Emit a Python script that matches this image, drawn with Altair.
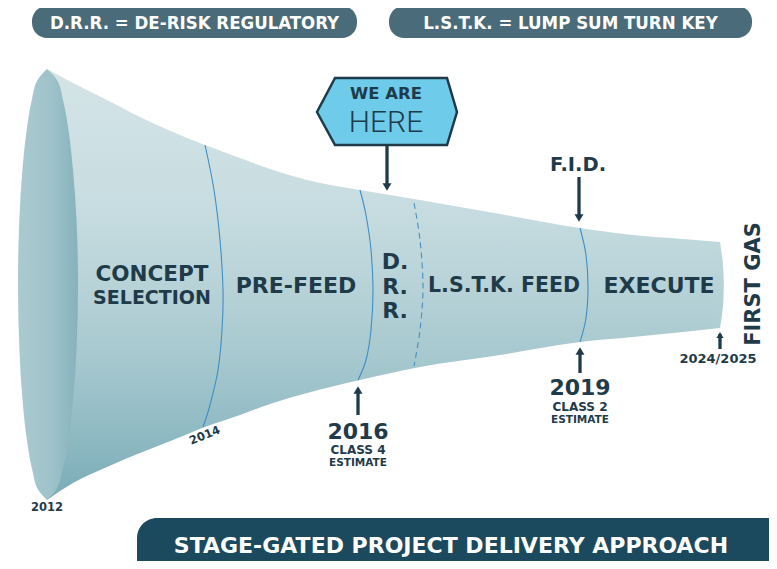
import altair as alt
import pandas as pd

# ---------------- data (reference pixel space) ----------------
# funnel body profile
body_x      = [47, 73, 107, 140, 173, 205, 240, 273, 307, 360, 420, 500, 580, 633, 683, 720]
body_top    = [69, 83, 100, 117, 132, 145, 158, 170, 180, 190, 200, 214, 228, 235, 239, 242]
body_bottom = [500, 483, 467, 453, 440, 427, 415, 403, 393, 380, 367, 355, 342, 337, 332, 328]

# mouth (opening ellipse) profile
mouth_y     = [69, 80, 100, 130, 170, 220, 284, 350, 400, 440, 470, 490, 500]
mouth_left  = [47, 37.5, 31.8, 26.7, 22.4, 19.3, 18, 19.4, 22.5, 26.9, 32.3, 38.3, 47]
mouth_right = [47, 57, 63, 68.5, 73, 76.5, 78, 76.5, 73, 68.5, 62.5, 56, 47]

# right end cap
cap_y     = [242, 262, 285, 308, 328]
cap_x_in  = [712, 712, 712, 712, 712]
cap_x_out = [720, 722.8, 723.8, 722.8, 720]

# stage gate dividers
div_line = ["g1"] * 8 + ["g2"] * 7 + ["g4"] * 5
div_x    = [205, 214, 220, 223, 222, 218, 210, 203,
            360, 366, 371, 373, 371, 366, 358,
            580, 586, 588, 586, 580]
div_y    = [145, 190, 240, 290, 330, 370, 405, 427,
            190, 215, 250, 290, 330, 360, 380,
            228, 255, 287, 318, 342]
dash_x   = [414, 420, 423, 420, 414]
dash_y   = [203, 240, 287, 330, 366]

# "WE ARE HERE" hexagon
hex_y     = [78, 112, 145]
hex_left  = [335, 317, 335]
hex_right = [447, 457, 447]

# stage labels
stage_labels = ["PRE-FEED", "D.", "R.", "R.", "EXECUTE"]
stage_x      = [296, 395, 395, 395, 659]
stage_y      = [286, 262, 287, 311, 286]

# header pills / banner
pill_labels = ["D.R.R. = DE-RISK REGULATORY", "L.S.T.K. = LUMP SUM TURN KEY"]
pill_x1 = [32, 389]
pill_x2 = [357, 752]
pill_y1 = [6, 6]
pill_y2 = [38, 38]
banner_label = "STAGE-GATED PROJECT DELIVERY APPROACH"

# milestone years
year_labels = ["2016", "2019"]
year_x = [358, 580]
year_y = [432, 388]
class_labels = ["CLASS 4", "CLASS 2"]
class_y = [450, 407]
est_y = [463, 420]

# arrows
shaft_x  = [387, 579, 358, 580, 720]
shaft_y1 = [145, 177, 390, 350, 334]
shaft_y2 = [186, 218, 415, 373, 349]
head_down_x = [387, 579]
head_down_y = [187, 218]
head_up_x = [358, 580]
head_up_y = [390, 351]
small_head_x = [720]
small_head_y = [335]

DARK = "#1f3b4a"
BOLD = "DejaVu Sans"

W, H = 761, 553
xs = alt.Scale(domain=[8, 8 + W], nice=False, zero=False)
ys = alt.Scale(domain=[8, 8 + H], nice=False, zero=False, reverse=True)


def X(f):
    return alt.X(f, type="quantitative", scale=xs, axis=None)


def Y(f):
    return alt.Y(f, type="quantitative", scale=ys, axis=None)


def grad(stops, horizontal=False):
    return alt.Gradient(
        gradient="linear",
        stops=[alt.GradientStop(offset=o, color=c) for o, c in stops],
        x1=0, y1=0, x2=1 if horizontal else 0, y2=0 if horizontal else 1,
    )


def text_layer(labels, x, y, size, font=BOLD, weight="bold", color=DARK, angle=None):
    df = pd.DataFrame({"label": labels, "x": x, "y": y})
    kw = dict(font=font, fontSize=size, fontWeight=weight, color=color,
              align="center", baseline="middle")
    if angle is not None:
        kw["angle"] = angle
    return alt.Chart(df).mark_text(**kw).encode(x=X("x"), y=Y("y"), text="label:N")


body_df = pd.DataFrame({"x": body_x, "top": body_top, "bottom": body_bottom})
body = alt.Chart(body_df).mark_area(
    orient="vertical", interpolate="monotone",
    color=grad([(0, "#d4e4e7"), (0.3, "#c8dde1"), (0.5, "#b8d3d8"),
                (0.7, "#a3c6cd"), (0.9, "#88b5bf"), (1, "#7aabb7")]),
).encode(x=X("x"), y=Y("top"), y2=alt.Y2("bottom"))

cap_df = pd.DataFrame({"y": cap_y, "a": cap_x_in, "b": cap_x_out})
cap = alt.Chart(cap_df).mark_area(
    orient="horizontal", interpolate="monotone",
    color=grad([(0, "#c0d8dc"), (1, "#aecdd3")]),
).encode(y=Y("y"), x=X("a"), x2=alt.X2("b"))

mouth_df = pd.DataFrame({"y": mouth_y, "l": mouth_left, "r": mouth_right})
mouth = alt.Chart(mouth_df).mark_area(
    orient="horizontal", interpolate="monotone",
    color=grad([(0, "#aacacf"), (0.55, "#9fc3ca"), (1, "#86b2bc")], horizontal=True),
).encode(y=Y("y"), x=X("l"), x2=alt.X2("r"))

div_df = pd.DataFrame({"line": div_line, "x": div_x, "y": div_y,
                       "idx": list(range(len(div_x)))})
dividers = alt.Chart(div_df).mark_line(
    interpolate="cardinal", color="#3f8ec4", strokeWidth=1.1
).encode(x=X("x"), y=Y("y"), detail="line:N", order=alt.Order("idx:Q"))

dash_df = pd.DataFrame({"x": dash_x, "y": dash_y, "idx": list(range(len(dash_x)))})
dashed = alt.Chart(dash_df).mark_line(
    interpolate="cardinal", color="#4a8fbf", strokeWidth=1.1, strokeDash=[6, 4]
).encode(x=X("x"), y=Y("y"), order=alt.Order("idx:Q"))

hex_df = pd.DataFrame({"y": hex_y, "l": hex_left, "r": hex_right})
hexagon = alt.Chart(hex_df).mark_area(
    orient="horizontal", interpolate="linear", fill="#6fcbea",
    stroke=DARK, strokeWidth=2.5, strokeJoin="miter",
).encode(y=Y("y"), x=X("l"), x2=alt.X2("r"))

pill_df = pd.DataFrame({"x1": pill_x1, "x2": pill_x2, "y1": pill_y1, "y2": pill_y2,
                        "label": pill_labels})
pills = alt.Chart(pill_df).mark_rect(color="#4a6b79", cornerRadius=15).encode(
    x=X("x1"), x2=alt.X2("x2"), y=Y("y1"), y2=alt.Y2("y2"))
pill_text = alt.Chart(pill_df).transform_calculate(
    cx="(datum.x1 + datum.x2) / 2", cy="(datum.y1 + datum.y2) / 2 + 1"
).mark_text(font="DejaVu Sans Condensed, DejaVu Sans", fontWeight="bold", fontSize=18.5,
            color="white", align="center", baseline="middle").encode(
    x=X("cx"), y=Y("cy"), text="label:N")

banner_df = pd.DataFrame({"x1": [137], "x2": [820], "y1": [518], "y2": [600],
                          "label": [banner_label]})
banner = alt.Chart(banner_df).mark_rect(color="#1b4a5f", cornerRadius=20).encode(
    x=X("x1"), x2=alt.X2("x2"), y=Y("y1"), y2=alt.Y2("y2"))
banner_text = text_layer([banner_label], [451], [546], 22, color="white")

shaft_df = pd.DataFrame({"x": shaft_x, "y1": shaft_y1, "y2": shaft_y2})
shafts = alt.Chart(shaft_df).mark_rule(color=DARK, strokeWidth=3.3).encode(
    x=X("x"), y=Y("y1"), y2=alt.Y2("y2"))
heads_down = alt.Chart(pd.DataFrame({"x": head_down_x, "y": head_down_y})).mark_point(
    shape="triangle-down", filled=True, color=DARK, size=80, opacity=1).encode(
    x=X("x"), y=Y("y"))
heads_up = alt.Chart(pd.DataFrame({"x": head_up_x, "y": head_up_y})).mark_point(
    shape="triangle-up", filled=True, color=DARK, size=80, opacity=1).encode(
    x=X("x"), y=Y("y"))
head_small = alt.Chart(pd.DataFrame({"x": small_head_x, "y": small_head_y})).mark_point(
    shape="triangle-up", filled=True, color=DARK, size=50, opacity=1).encode(
    x=X("x"), y=Y("y"))

layers = [
    pills, pill_text, banner, banner_text,
    body, cap, mouth, dividers, dashed,
    hexagon,
    text_layer(["WE ARE"], [386], [94], 16.5),
    text_layer(["HERE"], [386], [123], 30, font="Roboto", weight=300),
    text_layer(["CONCEPT"], [152], [275], 21.5),
    text_layer(["SELECTION"], [152], [297.5], 19),
    text_layer(stage_labels, stage_x, stage_y, 22),
    text_layer(["L.S.T.K. FEED"], [504], [286], 20.5),
    text_layer(["F.I.D."], [578], [165], 19.5),
    text_layer(["FIRST GAS"], [754], [284], 21, angle=270),
    text_layer(year_labels, year_x, year_y, 22),
    text_layer(class_labels, year_x, class_y, 12),
    text_layer(["ESTIMATE", "ESTIMATE"], year_x, est_y, 10.5),
    text_layer(["2024/2025"], [718], [359], 13),
    text_layer(["2012"], [47], [508], 11.5),
    text_layer(["2014"], [205], [436], 11.5, angle=338),
    shafts, heads_down, heads_up, head_small,
]

chart = alt.layer(*layers).properties(
    width=W, height=H, padding=0, autosize=alt.AutoSizeParams(type="none"),
    background="white",
).configure_view(stroke=None)

chart.save("out.html", embed_options={"renderer": "svg", "actions": False})
